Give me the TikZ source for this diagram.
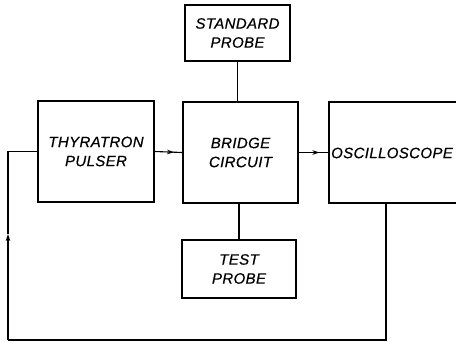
\documentclass[tikz,border=0pt]{standalone}
\usepackage{fontspec}
\newfontfamily\lettering[LetterSpace=2.5,FakeBold=0.6]{Liberation Sans}
\usetikzlibrary{arrows.meta,decorations.markings}
\begin{document}
\begin{tikzpicture}[
  x=1pt, y=-1pt,
  line width=1.1pt,
  block/.style={draw, rectangle, align=center, font=\lettering\itshape\fontsize{15}{19}\selectfont},
  flow/.style={postaction={decorate}, decoration={markings,
    mark=at position #1 with {\arrow{Stealth[length=7pt,width=4.5pt]}}}}
]
\useasboundingbox (0,0) rectangle (456,342);
\node[block, minimum width=105pt, minimum height=56pt] (std) at (237.5,33) {STANDARD\\PROBE};
\node[block, minimum width=116pt, minimum height=101pt] (thy) at (96,151.5) {THYRATRON\\PULSER};
\node[block, minimum width=115pt, minimum height=101pt] (bridge) at (240.5,152.5) {BRIDGE\\CIRCUIT};
\node[block, minimum width=131pt, minimum height=101pt] (osc) at (394.5,152.5) {};
\node[font=\lettering\itshape\fontsize{15}{19}\selectfont] (osctext) at (392,153) {OSCILLOSCOPE};
\node[block, minimum width=114pt, minimum height=58pt] (test) at (239,269) {TEST\\PROBE};
\coordinate (fbr) at (386,340);
\coordinate (fbl) at (8,340);
\coordinate (fbarr) at (8,234);
% probes
\draw (std.south) -- (bridge.north -| std.south);
\draw (bridge.south -| test.north) -- (test.north);
% signal path
\draw[flow=0.7] (thy.east) -- (bridge.west);
\draw[flow=0.7] (bridge.east) -- (osc.west);
% feedback loop
\draw (osc.south -| fbr) -- (fbr) -- (fbl);
\draw[-{Stealth[length=7pt,width=4.5pt]}] (fbl) -- (fbarr);
\draw (fbarr) -- (fbl |- thy.west) -- (thy.west);
\end{tikzpicture}
\end{document}
